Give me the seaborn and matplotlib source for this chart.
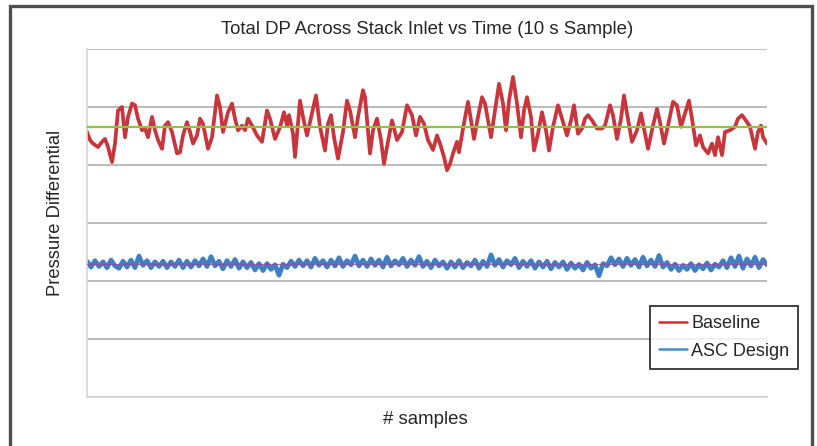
import numpy as np
import pandas as pd
import matplotlib
matplotlib.use("Agg")
import matplotlib.pyplot as plt
from matplotlib.lines import Line2D
from matplotlib.patches import Rectangle
import seaborn as sns

# red series (Baseline) - sample index / pressure differential
base_samples = [0, 3, 6, 11, 15, 18, 21, 25, 28, 31, 35, 38, 41, 45, 48, 51, 55, 58, 61, 65,
                68, 71, 75, 78, 81, 85, 90, 93, 96, 100, 103, 106, 110, 113, 116, 121, 125, 130, 133, 136,
                141, 145, 148, 151, 155, 158, 161, 165, 170, 175, 180, 183, 188, 193, 197, 200, 202, 206, 208, 213,
                216, 220, 225, 229, 233, 238, 241, 244, 247, 251, 256, 260, 263, 268, 271, 276, 278, 283, 286, 290,
                294, 297, 300, 305, 310, 315, 320, 325, 329, 333, 337, 341, 346, 350, 353, 357, 360, 363, 366, 370,
                372, 376, 381, 385, 387, 391, 395, 398, 404, 408, 412, 416, 419, 422, 426, 430, 434, 437, 440, 444,
                447, 451, 455, 459, 462, 466, 471, 475, 480, 484, 487, 491, 495, 498, 501, 505, 510, 515, 518, 523,
                526, 530, 534, 537, 540, 545, 550, 554, 557, 561, 566, 570, 573, 577, 581, 586, 590, 594, 598, 602,
                605, 609, 613, 616, 621, 625, 628, 631, 635, 638, 643, 648, 651, 655, 660, 663, 668, 671, 674, 676, 680]
base_values = [45.7, 44.3, 43.7, 43.1, 44.0, 44.5, 43.1, 40.5, 43.7, 49.4, 50.0, 44.8, 48.3, 50.6, 50.3, 48.0, 46.0, 46.3, 44.8, 48.3,
               46.0, 44.3, 42.8, 46.8, 47.4, 45.7, 42.0, 42.2, 45.1, 47.4, 45.7, 43.7, 45.1, 48.0, 47.1, 42.8, 44.8, 52.0, 50.0, 45.7,
               49.1, 50.6, 48.0, 46.0, 46.8, 46.0, 48.0, 46.8, 45.1, 44.0, 49.4, 48.0, 44.5, 46.5, 49.1, 46.8, 48.6, 45.4, 41.4, 51.1,
               48.3, 45.1, 48.9, 52.0, 46.6, 42.5, 47.1, 48.6, 44.8, 41.1, 45.7, 51.1, 49.4, 44.8, 48.3, 52.9, 51.7, 42.0, 46.0, 48.0,
               44.3, 40.2, 43.1, 47.7, 44.3, 45.7, 50.3, 48.6, 45.1, 48.3, 47.1, 44.3, 42.6, 45.1, 43.7, 41.4, 39.1, 40.2, 42.0, 44.0,
               42.2, 46.3, 50.9, 46.6, 44.5, 48.3, 51.7, 50.6, 44.8, 49.4, 54.0, 50.6, 46.0, 51.1, 55.2, 50.6, 44.8, 49.4, 51.7, 48.3,
               42.5, 45.4, 49.1, 46.0, 42.5, 46.6, 50.3, 48.0, 45.1, 47.7, 50.3, 45.4, 46.3, 48.0, 48.6, 47.7, 46.3, 46.3, 46.8, 50.3,
               48.6, 44.5, 48.0, 52.0, 48.9, 44.0, 46.0, 48.9, 46.3, 42.8, 46.8, 49.7, 47.4, 43.7, 46.8, 50.9, 50.3, 46.6, 48.9, 51.1,
               48.0, 43.4, 45.1, 43.1, 42.0, 43.7, 41.7, 44.8, 41.7, 45.7, 46.0, 46.6, 48.0, 48.6, 47.4, 46.6, 42.8, 45.7, 46.8, 44.8, 43.7]

# blue series (ASC Design), one reading every 4 samples
asc_values = [23.4, 22.4, 23.5, 22.5, 23.3, 22.3, 23.6, 22.6, 22.2, 23.4,
              22.4, 23.6, 22.3, 24.3, 22.7, 23.5, 22.3, 23.3, 22.5, 23.4,
              22.3, 23.3, 22.5, 23.6, 22.3, 23.4, 22.4, 23.5, 22.6, 23.8,
              22.5, 24.2, 22.6, 23.4, 22.1, 23.5, 22.5, 23.7, 22.2, 23.3,
              22.3, 23.2, 21.9, 23.0, 21.8, 23.0, 22.0, 22.8, 21.0, 22.9,
              22.3, 23.4, 22.5, 23.6, 22.6, 23.5, 22.4, 23.9, 22.7, 23.5,
              22.4, 23.6, 22.6, 24.0, 22.5, 23.5, 22.8, 24.3, 22.6, 23.6,
              22.5, 23.8, 22.7, 23.6, 22.4, 24.1, 22.6, 23.5, 22.8, 23.9,
              22.5, 23.6, 22.7, 24.2, 22.5, 23.4, 22.3, 23.6, 22.6, 23.3,
              22.2, 23.3, 22.4, 23.5, 22.3, 23.2, 22.6, 23.6, 22.2, 23.4,
              22.5, 24.5, 22.7, 23.7, 22.4, 23.5, 22.8, 23.9, 22.3, 23.4,
              22.5, 23.5, 22.2, 23.3, 22.4, 23.4, 22.1, 23.2, 22.4, 23.3,
              22.0, 23.1, 22.2, 22.9, 21.9, 23.2, 22.2, 22.8, 20.9, 23.0,
              22.6, 24.0, 22.8, 23.8, 22.5, 23.9, 22.7, 23.7, 22.4, 24.1,
              22.6, 23.6, 22.5, 24.4, 22.4, 23.2, 22.0, 22.9, 21.8, 22.7,
              22.0, 23.0, 21.8, 22.8, 22.1, 23.1, 21.9, 22.9, 22.4, 23.5,
              22.3, 24.0, 22.5, 24.3, 22.2, 23.8, 22.6, 24.1, 22.3, 23.7,
              22.8]
asc_samples = np.arange(len(asc_values)) * 4

base_mean = 46.5
asc_mean = 22.9

sns.set_style("white")
plt.rcParams['font.family'] = ['Liberation Sans', 'DejaVu Sans']

fig = plt.figure(figsize=(8.17, 4.46), dpi=100)
ax = fig.add_axes([0.1065, 0.110, 0.8323, 0.780])

sns.lineplot(x=base_samples, y=base_values, ax=ax, color="#c8363c", lw=2.7, sort=False,
             solid_joinstyle="round")
sns.lineplot(x=asc_samples, y=asc_values, ax=ax, color="#3f7fc2", lw=3.4, sort=False)
ax.axhline(base_mean, color="#92c045", lw=1.6, zorder=5)
ax.axhline(asc_mean, color="#8a4fa0", lw=0.9, alpha=0.8, zorder=5)

ax.set_xlim(0, 680)
ax.set_ylim(0, 60)
ax.set_yticks(np.arange(0, 61, 10))
ax.set_xticks([])
ax.tick_params(left=False, labelleft=False)
ax.yaxis.grid(True, color="#a8a8a8", lw=1.1)
ax.set_axisbelow(True)
for s in ["top", "right"]:
    ax.spines[s].set_visible(False)
for s in ["left", "bottom"]:
    ax.spines[s].set_color("#d4d4d4")
    ax.spines[s].set_linewidth(1.2)

ax.set_title("Total DP Across Stack Inlet vs Time (10 s Sample)", fontsize=13.4, pad=11)
ax.set_xlabel("# samples", fontsize=13.4)
ax.set_ylabel("Pressure Differential", fontsize=13.2)
ax.xaxis.set_label_coords(0.497, -0.04)
ax.yaxis.set_label_coords(-0.034, 0.529)

handles = [Line2D([], [], color="#e0262c", lw=1.8), Line2D([], [], color="#3c8fd6", lw=1.8)]
leg = fig.legend(handles, ["Baseline", "ASC Design"], loc="upper right",
                 bbox_to_anchor=(0.977, 0.314), fontsize=13, frameon=True, fancybox=False,
                 handlelength=1.6, handletextpad=0.2, borderpad=0.5, labelspacing=0.6,
                 borderaxespad=0)
leg.get_frame().set_edgecolor("black")
leg.get_frame().set_linewidth(1.3)

# outer frame around the chart (no bottom edge visible)
fig.add_artist(Rectangle((10 / 817, -0.2), 802 / 817, 1.2 - 6 / 446, transform=fig.transFigure,
                         fill=False, edgecolor="#4f4f4f", lw=2.4))

fig.savefig("out.png", dpi=100)
